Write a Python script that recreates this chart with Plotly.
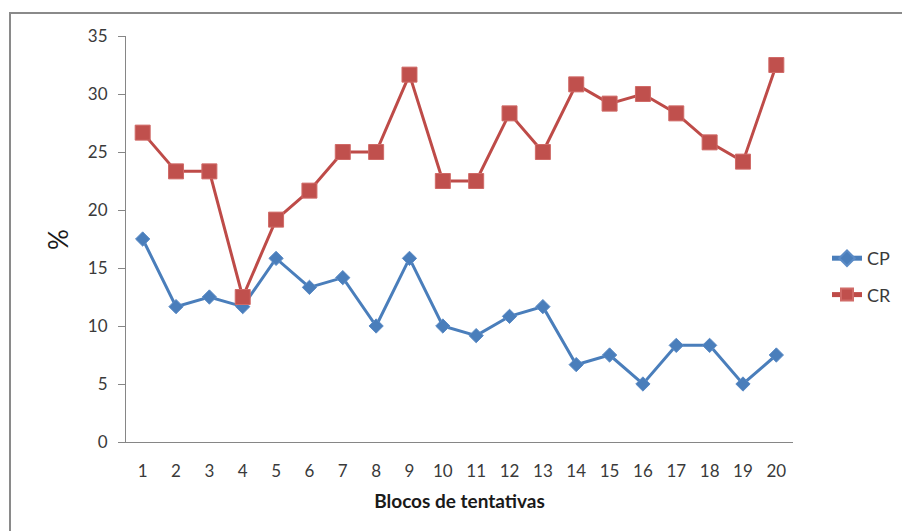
import plotly.graph_objects as go

# Blocks of trials and the percentage of each response type per block
blocos = list(range(1, 21))
cp = [17.5, 11.67, 12.5, 11.67, 15.83, 13.33, 14.17, 10.0, 15.83, 10.0,
      9.17, 10.83, 11.67, 6.67, 7.5, 5.0, 8.33, 8.33, 5.0, 7.5]
cr = [26.67, 23.33, 23.33, 12.5, 19.17, 21.67, 25.0, 25.0, 31.67, 22.5,
      22.5, 28.33, 25.0, 30.83, 29.17, 30.0, 28.33, 25.83, 24.17, 32.5]
y_ticks = [0, 5, 10, 15, 20, 25, 30, 35]

W, H = 902, 531
ML, MR, MT, MB = 126, 109, 36, 89
PW, PH = W - ML - MR, H - MT - MB

FONT = "Lato, 'Open Sans', sans-serif"
TXT = "#3a3a3a"
AXIS = "#868686"


def px_x(p):
    return (p - ML) / PW


def px_y(p):
    return 1 - (p - MT) / PH


fig = go.Figure()
fig.add_trace(go.Scatter(
    x=blocos, y=cp, name="CP", mode="lines+markers", legendgroup="cp",
    line=dict(color="#4A7EBB", width=3),
    marker=dict(symbol="diamond", size=11, color="#4A7EBB",
                line=dict(color="#5B8BC6", width=1)),
))
fig.add_trace(go.Scatter(
    x=blocos, y=cr, name="CR", mode="lines+markers", legendgroup="cr",
    line=dict(color="#BE4B48", width=3),
    marker=dict(symbol="square", size=15, color="#C0504D",
                line=dict(color="#D06A67", width=1)),
))

fig.update_layout(
    width=W, height=H,
    margin=dict(l=ML, r=MR, t=MT, b=MB, autoexpand=False),
    paper_bgcolor="white", plot_bgcolor="white",
    font=dict(family=FONT, size=17, color=TXT),
    showlegend=True,
    legend=dict(
        x=px_x(827), y=px_y(240), xanchor="left", yanchor="top",
        font=dict(family=FONT, size=18, color=TXT),
        bgcolor="rgba(0,0,0,0)", tracegroupgap=10, itemsizing="constant",
    ),
    xaxis=dict(
        range=[0.5, 20.5], tickmode="array", tickvals=blocos,
        ticktext=[str(b) for b in blocos],
        showline=True, linecolor=AXIS, linewidth=1,
        showgrid=False, zeroline=False, ticks="", ticklabelstandoff=14,
        tickfont=dict(family=FONT, size=17, color=TXT),
        title=dict(text="<b>Blocos de tentativas</b>",
                   font=dict(family=FONT, size=19, color="#1a1a1a"),
                   standoff=14),
    ),
    yaxis=dict(
        range=[0, 35], tickmode="array", tickvals=y_ticks,
        showline=True, linecolor=AXIS, linewidth=1,
        showgrid=False, zeroline=False,
        ticks="outside", ticklen=7, tickcolor=AXIS, tickwidth=1,
        ticklabelstandoff=7,
        tickfont=dict(family=FONT, size=17, color=TXT),
    ),
    annotations=[dict(
        text="%", xref="paper", yref="paper",
        x=px_x(58), y=px_y(240), xanchor="center", yanchor="middle",
        textangle=-90, showarrow=False,
        font=dict(family=FONT, size=26, color="#1a1a1a"),
    )],
    shapes=[dict(
        type="rect", xref="paper", yref="paper", layer="above",
        x0=px_x(10), x1=px_x(W + 20), y0=px_y(H + 20), y1=px_y(13),
        line=dict(color="#8a8a8a", width=2), fillcolor="rgba(0,0,0,0)",
    )],
)

fig.write_html("out.html")
